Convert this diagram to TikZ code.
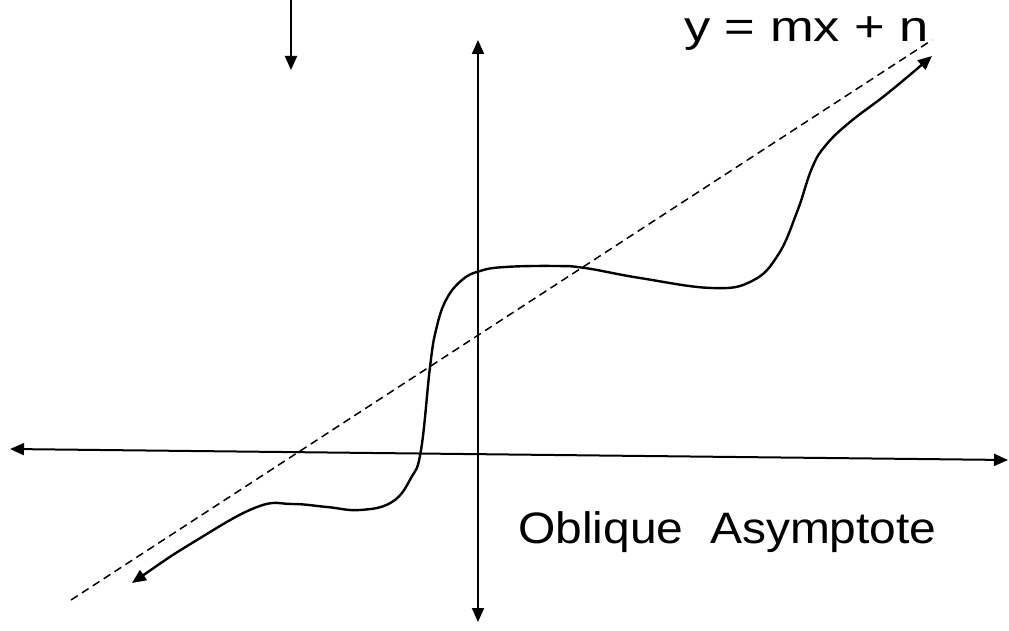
\documentclass[tikz,border=0pt]{standalone}
\usepackage{fontspec}
\setmainfont{Liberation Sans}
\usetikzlibrary{arrows.meta}
\tikzset{
  tipA/.tip={Triangle[length=14pt,width=12pt]},
  axisline/.style={line width=2pt, tipA-tipA},
  singlearrow/.style={line width=2pt, -tipA},
  asymline/.style={line width=1.5pt, dash pattern=on 8pt off 5pt},
  curveline/.style={line width=2.4pt, tipA-tipA},
  labeltext/.style={anchor=base west, inner sep=0pt, text=black}
}
\begin{document}
\begin{tikzpicture}[x=1pt,y=-1pt]
\useasboundingbox[fill=white] (0,0) rectangle (1009,631);
% coordinates
\coordinate (xl) at (10,449);
\coordinate (xr) at (1008,460);
\coordinate (yt) at (478,40);
\coordinate (yb) at (478,622);
\coordinate (ps) at (291,0);
\coordinate (pe) at (291,70);
\coordinate (as) at (71,600);
\coordinate (ae) at (932,40);
% axes
\draw[axisline] (xl) -- (xr);
\draw[axisline] (yb) -- (yt);
% pointer arrow
\draw[singlearrow] (ps) -- (pe);
% asymptote
\draw[asymline] (as) -- (ae);
% curve
\draw[curveline] plot[smooth, tension=0.7] coordinates {
 (132,583) (197,540) (257,507) (292,504) (327,507) (360,510) (392,502)
 (411,478) (421,450) (430,367) (436,330) (446,300) (462,280) (480,271)
 (505,267) (555,266) (585,268) (640,278) (712,288) (752,281) (778,255)
 (797,212) (812,168) (826,145) (850,122) (888,93) (932,56)};
% labels
\node[labeltext] (eq) at (684,42) {\scalebox{1.22}[1]{\fontsize{43}{50}\selectfont y = mx + n}};
\node[labeltext] (obl) at (518,543) {\scalebox{1.09}[1]{\fontsize{44}{52}\selectfont Oblique\ \ Asymptote}};
\end{tikzpicture}
\end{document}
